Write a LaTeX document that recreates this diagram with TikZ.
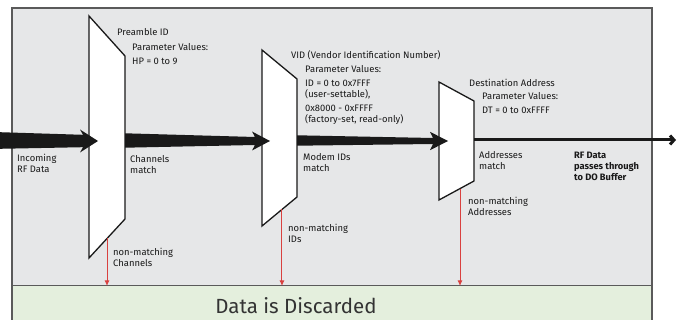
\documentclass[tikz,border=0pt]{standalone}
\usepackage{fontspec}
\setmainfont{Fira Sans}
\usepackage{tikz}
\usetikzlibrary{calc}
\usetikzlibrary{arrows.meta}
\definecolor{panelgray}{HTML}{E6E7E8}
\definecolor{discardgreen}{HTML}{E4EFDD}
\definecolor{rejectred}{HTML}{D9413F}
\definecolor{framegray}{HTML}{5A5A5A}
\tikzset{filter/.style={draw=black!90,fill=white,line width=1.3pt},
         lbl/.style={font=\fontsize{9.4}{11}\selectfont,align=left,anchor=north west,inner sep=0pt,text=black!90},
         reject/.style={draw=rejectred,line width=1pt,-{Latex[length=5.5pt,width=5pt]}}}
\newcommand{\taperarrow}[5]{% tail, tip, tail half width, neck half width, head half width
  \fill[black!90] ($(#1)+(0,-#3)$) -- ($(#2)+(-15,-#4)$) -- ($(#2)+(-18,-#5)$) -- (#2)
    -- ($(#2)+(-18,#5)$) -- ($(#2)+(-15,#4)$) -- ($(#1)+(0,#3)$) -- cycle;}

\begin{document}
\begin{tikzpicture}[x=1pt,y=-1pt]
\useasboundingbox (0,0) rectangle (677,320);
\fill[panelgray] (12,8) rectangle (652,286);
\fill[discardgreen] (12,286) rectangle (652,322);
\draw[framegray,line width=1.2pt] (12,322) -- (12,8) -- (652,8) -- (652,322);
\draw[framegray,line width=1pt] (12,286) coordinate (sep) -- (652,286);
\draw[filter] (89,16) coordinate (f1nw) -- (125,56) -- (125,219) coordinate (f1se) -- (89,258) coordinate (f1sw) -- cycle;
\draw[filter] (262,50) coordinate (f2nw) -- (297,79) -- (297,197) coordinate (f2se) -- (262,226) coordinate (f2sw) -- cycle;
\draw[filter] (439,82) coordinate (f3nw) -- (474,101) -- (474,181) coordinate (f3se) -- (439,200) coordinate (f3sw) -- cycle;
\coordinate (src) at (0,140.5);
\coordinate (buffer) at (676,140);
\taperarrow{src}{$(f1nw |- src)+(9,0.5)$}{8.3}{6.2}{11.5}
\taperarrow{f1se |- src}{$(f2nw |- src)+(8,0.5)$}{7.2}{4}{9.5}
\taperarrow{f2se |- src}{$(f3nw |- src)+(9,0.5)$}{5.2}{3}{9.2}
\draw[black!90,line width=3pt,-{Straight Barb[length=4pt,width=9pt]}] (f3se |- buffer) -- (buffer);
\coordinate (r1) at ($(f1se)!0.5!(f1sw)$);
\coordinate (r2) at ($(f2se)!0.43!(f2sw)$);
\coordinate (r3) at ($(f3se)!0.4!(f3sw)$);
\draw[reject] (r1) -- (r1 |- sep);
\draw[reject] (r2) -- (r2 |- sep);
\draw[reject] (r3) -- (r3 |- sep);
\node[lbl] (pretitle) at (117,28.5) {Preamble ID};
\node[lbl] (preparam) at (132,43.5) {Parameter Values:\\[3pt]HP = 0 to 9};
\node[lbl] (incoming) at (17,154) {Incoming\\RF Data};
\node[lbl] (chmatch) at (130,155) {Channels\\match};
\node[lbl] (nonch) at (113,248) {non-matching\\Channels};
\node[lbl] (vidtitle) at (291,50) {VID (Vendor Identification Number)};
\node[lbl] (vidparam) at (305,65) {Parameter Values:\\[3pt]ID = 0 to 0x7FFF\\(user-settable),\\[3pt]0x8000 - 0xFFFF\\(factory-set, read-only)};
\node[lbl] (idmatch) at (303,153) {Modem IDs\\match};
\node[lbl] (nonid) at (288,224) {non-matching\\IDs};
\node[lbl] (desttitle) at (469,79) {Destination Address};
\node[lbl] (destparam) at (482,92) {Parameter Values:\\[3pt]DT = 0 to 0xFFFF};
\node[lbl] (addrmatch) at (479,151) {Addresses\\match};
\node[lbl] (nonaddr) at (468,197) {non-matching\\Addresses};
\node[lbl,font=\fontsize{9.3}{11}\selectfont\bfseries] (passes) at (574,151.5) {RF Data\\passes through\\to DO Buffer};
\node[font=\fontsize{20.5}{24}\selectfont,text=black!80] (discard) at (296,306) {Data is Discarded};
\end{tikzpicture}
\end{document}
